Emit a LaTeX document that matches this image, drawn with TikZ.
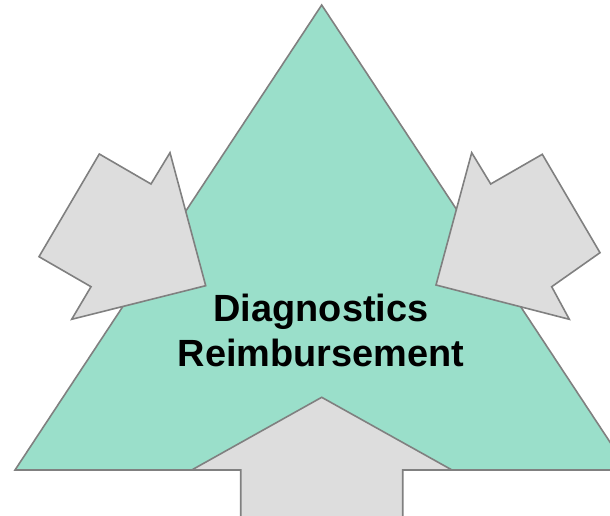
\documentclass[tikz,border=0pt]{standalone}
\usepackage{fontspec}
\setmainfont{Liberation Sans}
\definecolor{tealfill}{HTML}{9ADFCA}
\definecolor{arrowfill}{HTML}{DDDDDD}
\definecolor{edgegray}{HTML}{808080}
\tikzset{
  shape edge/.style={draw=edgegray, line width=1.6pt, line join=miter},
  triangle/.style={shape edge, fill=tealfill},
  bigarrow/.style={shape edge, fill=arrowfill},
  title/.style={align=center, font=\fontsize{37.9}{45}\selectfont\bfseries, inner sep=0pt}
}
\begin{document}
\begin{tikzpicture}[x=1pt, y=-1pt]
  \useasboundingbox (0,0) rectangle (610,516);
  \clip (0,0) rectangle (610,516);
  % central triangle (its right corner runs past the frame)
  \path[triangle] (321.7,5) -- (628.4,470) -- (15,470) -- cycle;
  % arrow pushing up from below
  \path[bigarrow] (321.7,397.3) -- (452,470) -- (402.7,470) -- (402.7,518)
        -- (240.7,518) -- (240.7,470) -- (191.7,470) -- cycle;
  % arrow from the upper left
  \path[bigarrow] (205.7,285.7) -- (71.7,319.3) -- (91,286.7) -- (39,256.7)
        -- (99.3,154) -- (151,184) -- (170,152.7) -- cycle;
  % arrow from the upper right
  \path[bigarrow] (436,285) -- (471.7,152.7) -- (490.7,184) -- (542.3,154.3)
        -- (600,252.7) -- (551.7,286.7) -- (569.3,319.3) -- cycle;
  % label
  \node[title] (label) at (321,330.5) {Diagnostics\\Reimbursement};
\end{tikzpicture}
\end{document}
